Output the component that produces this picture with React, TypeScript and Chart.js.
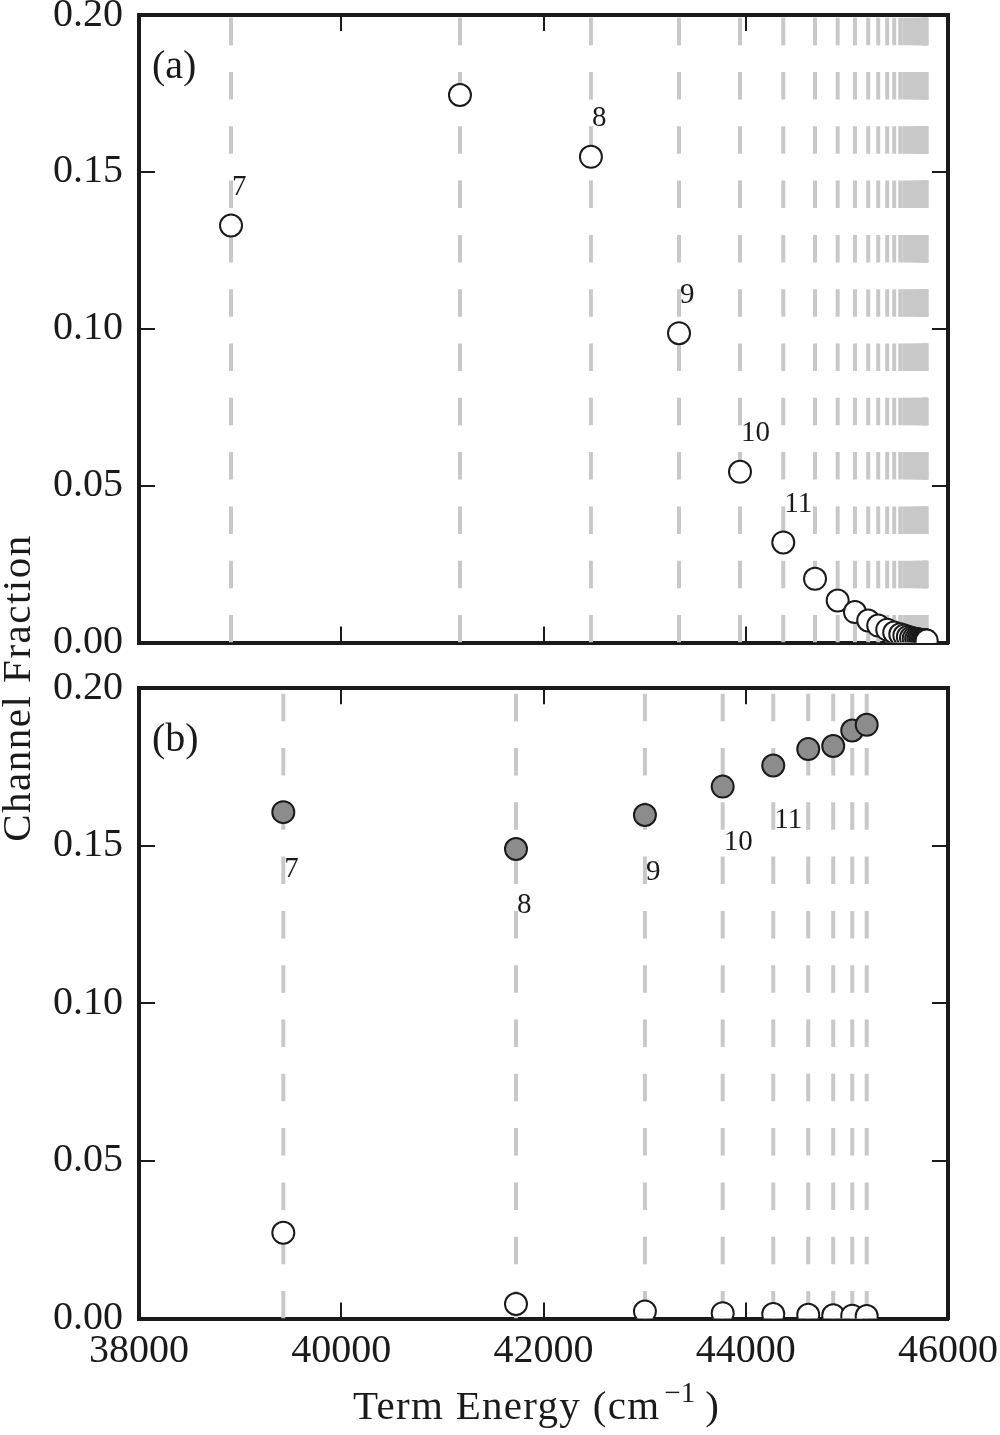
import React, { useEffect, useRef } from "react";
import { Chart, registerables } from "chart.js";

Chart.register(...registerables);

const FONT = "'Liberation Serif', 'Times New Roman', serif";
const INK = "#1a1a1a";

// ---------- Panel (a) ----------
const levelsA = [
  38910, 41174, 42469, 43340, 43943, 44371, 44685, 44909, 45080, 45211, 45310, 45399, 45468,
  45528, 45568, 45603, 45634, 45661, 45685, 45706, 45724, 45740, 45753, 45764, 45773, 45780, 45785, 45789,
];
const fractionA = [
  0.1329, 0.1745, 0.1548, 0.0986, 0.0544, 0.0319, 0.0203, 0.0134, 0.0097, 0.007, 0.0054, 0.0041, 0.0032,
  0.0026, 0.0022, 0.0018, 0.0015, 0.0013, 0.0011, 0.001, 0.0009, 0.0008, 0.0008, 0.0007, 0.0007, 0.0006, 0.0006, 0.0006,
];
const labelTextA = ["7", "8", "9", "10", "11"];
const labelXA = [38910, 42469, 43340, 43943, 44371];
const labelYA = [0.1425, 0.1645, 0.1082, 0.0642, 0.0416];

// ---------- Panel (b) ----------
const levelsB = [39427, 41728, 43003, 43772, 44272, 44618, 44865, 45053, 45196];
const filledB = [0.1607, 0.149, 0.1598, 0.1688, 0.1755, 0.1807, 0.1817, 0.1866, 0.1884];
const openB = [0.0272, 0.0046, 0.0022, 0.0017, 0.0014, 0.0012, 0.001, 0.0009, 0.0008];
const labelTextB = ["7", "8", "9", "10", "11"];
const labelXB = [39427, 41728, 43003, 43772, 44272];
const labelYB = [0.1402, 0.1287, 0.1392, 0.1487, 0.1557];

// ---------- Axes ----------
const xTicks = [38000, 40000, 42000, 44000, 46000];
const yTicks = [0, 0.05, 0.1, 0.15, 0.2];
const X_MIN = xTicks[0];
const X_MAX = xTicks[xTicks.length - 1];
const Y_MIN = yTicks[0];
const Y_MAX = yTicks[yTicks.length - 1];

function sizeFix(size: number, horizontal: boolean) {
  return (scale: any) => {
    if (horizontal) scale.height = size;
    else scale.width = size;
    scale.paddingTop = 0;
    scale.paddingBottom = 0;
    scale.paddingLeft = 0;
    scale.paddingRight = 0;
  };
}

function gridOpts() {
  return {
    drawOnChartArea: false,
    drawTicks: true,
    tickLength: -16,
    tickWidth: 2,
    lineWidth: 2,
    tickColor: INK,
    color: INK,
  };
}

function xScale(position: string, showLabels: boolean, size: number) {
  return {
    type: "linear",
    position,
    min: X_MIN,
    max: X_MAX,
    afterBuildTicks: (s: any) => {
      s.ticks = xTicks.map((v) => ({ value: v }));
    },
    ticks: {
      display: showLabels,
      padding: 25,
      maxRotation: 0,
      autoSkip: false,
      color: INK,
      font: { family: FONT, size: 40 },
      callback: (v: any) => String(v),
    },
    grid: gridOpts(),
    border: { display: true, color: INK, width: 4 },
    afterFit: sizeFix(size, true),
  };
}

function yScale(position: string, showLabels: boolean, size: number) {
  return {
    type: "linear",
    position,
    min: Y_MIN,
    max: Y_MAX,
    afterBuildTicks: (s: any) => {
      s.ticks = yTicks.map((v) => ({ value: v }));
    },
    ticks: {
      display: showLabels,
      padding: 32,
      color: INK,
      font: { family: FONT, size: 40 },
      callback: (v: any) => Number(v).toFixed(2),
    },
    grid: gridOpts(),
    border: { display: true, color: INK, width: 4 },
    afterFit: sizeFix(size, false),
  };
}

function levelLines(levels: number[]) {
  return levels.map((e) => ({
    data: [
      { x: e, y: Y_MIN },
      { x: e, y: Y_MAX },
    ],
    showLine: true,
    borderColor: "#c8c8c8",
    borderWidth: 4,
    borderDash: [27.5, 26.8],
    pointRadius: 0,
    order: 5,
  }));
}

function markers(levels: number[], values: number[], fill: string) {
  return {
    data: levels.map((e, i) => ({ x: e, y: values[i] })),
    showLine: false,
    pointRadius: 11,
    pointBorderWidth: 2,
    pointBackgroundColor: fill,
    pointBorderColor: INK,
    clip: 0,
    order: 0,
  };
}

function annotations(panel: string, texts: string[], xs: number[], ys: number[]) {
  return {
    id: "annot" + panel,
    afterDatasetsDraw(chart: any) {
      const { ctx, chartArea } = chart;
      const sx = chart.scales.x;
      const sy = chart.scales.y;
      ctx.save();
      ctx.fillStyle = INK;
      ctx.textAlign = "left";
      ctx.textBaseline = "alphabetic";
      ctx.font = `29px ${FONT}`;
      texts.forEach((t, i) => {
        ctx.fillText(t, sx.getPixelForValue(xs[i]) + 1, sy.getPixelForValue(ys[i]));
      });
      ctx.font = `40px ${FONT}`;
      ctx.fillText(panel, chartArea.left + 13, chartArea.top + 63);
      ctx.restore();
    },
  };
}

function baseOptions(topH: number, bottomH: number, showX: boolean) {
  return {
    responsive: false,
    animation: false,
    events: [],
    layout: { padding: 0 },
    plugins: { legend: { display: false }, tooltip: { enabled: false } },
    scales: {
      x: xScale("bottom", showX, bottomH),
      x2: xScale("top", false, topH),
      y: yScale("left", true, 139),
      y2: yScale("right", false, 52),
    },
  };
}

export default function App() {
  const refA = useRef<HTMLCanvasElement>(null);
  const refB = useRef<HTMLCanvasElement>(null);

  useEffect(() => {
    document.body.style.margin = "0";
    const chartA = new Chart(refA.current as HTMLCanvasElement, {
      type: "scatter",
      data: {
        datasets: [markers(levelsA, fractionA, "#ffffff"), ...levelLines(levelsA)] as any,
      },
      options: baseOptions(15, 27.5, false) as any,
      plugins: [annotations("(a)", labelTextA, labelXA, labelYA)],
    });
    const chartB = new Chart(refB.current as HTMLCanvasElement, {
      type: "scatter",
      data: {
        datasets: [
          markers(levelsB, filledB, "#8c8c8c"),
          markers(levelsB, openB, "#ffffff"),
          ...levelLines(levelsB),
        ] as any,
      },
      options: baseOptions(18.3, 116.5, true) as any,
      plugins: [annotations("(b)", labelTextB, labelXB, labelYB)],
    });
    return () => {
      chartA.destroy();
      chartB.destroy();
    };
  }, []);

  return (
    <div
      style={{
        position: "absolute",
        left: 0,
        top: 0,
        width: 1000,
        height: 1435,
        background: "#ffffff",
        fontFamily: FONT,
        color: INK,
        overflow: "hidden",
      }}
    >
      <canvas
        ref={refA}
        width={1000}
        height={670}
        style={{ position: "absolute", left: 0, top: 0, width: 1000, height: 670 }}
      />
      <canvas
        ref={refB}
        width={1000}
        height={765}
        style={{ position: "absolute", left: 0, top: 670, width: 1000, height: 765 }}
      />
      <div
        style={{
          position: "absolute",
          left: 16 - 200,
          top: 688 - 25,
          width: 400,
          height: 50,
          lineHeight: "50px",
          fontSize: 41,
          letterSpacing: 1.5,
          textAlign: "center",
          whiteSpace: "nowrap",
          transform: "rotate(-90deg)",
        }}
      >
        Channel Fraction
      </div>
      <div
        style={{
          position: "absolute",
          left: 353,
          top: 1385,
          fontSize: 41,
          lineHeight: 1,
          letterSpacing: 1.3,
          whiteSpace: "nowrap",
        }}
      >
        Term Energy (cm
        <span
          style={{
            fontSize: 29,
            position: "relative",
            top: -17,
            marginLeft: 4,
            marginRight: 10,
            letterSpacing: 0,
          }}
        >
          −1
        </span>
        )
      </div>
    </div>
  );
}
